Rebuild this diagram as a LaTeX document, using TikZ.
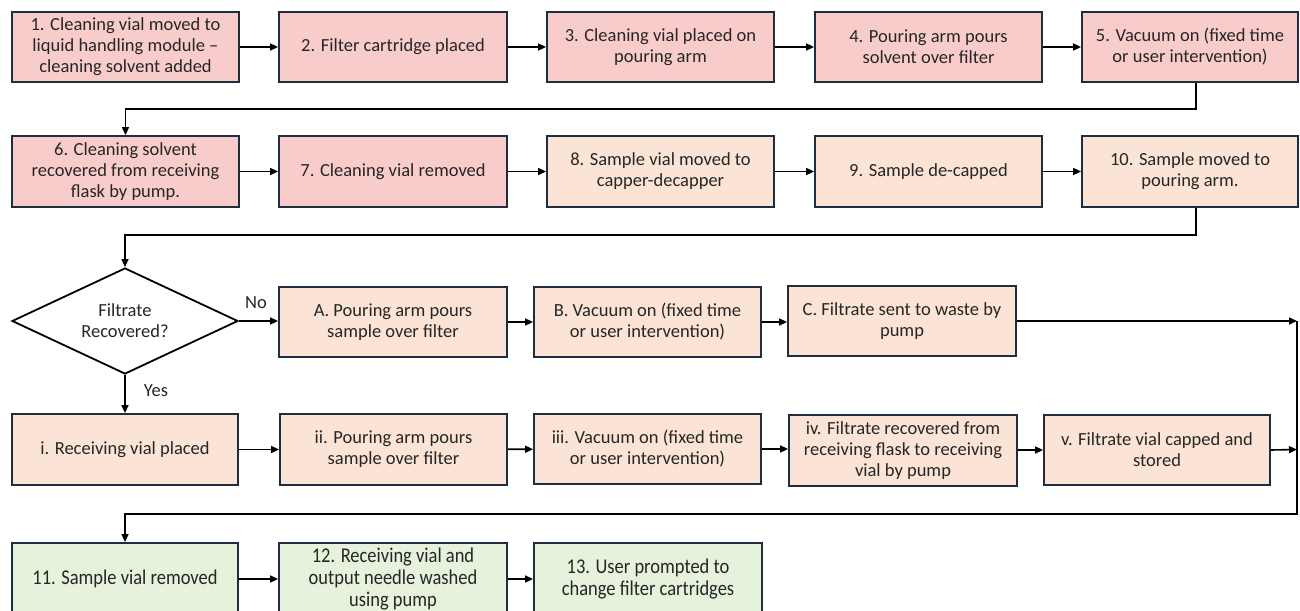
\documentclass[tikz,border=0pt]{standalone}
\usepackage{fontspec}
\setmainfont{Carlito}
\newfontfamily\narrowfont[FakeStretch=0.88]{Carlito}
\usetikzlibrary{shapes.geometric,arrows.meta}
\definecolor{pinkf}{RGB}{249,204,204}
\definecolor{peachf}{RGB}{251,227,214}
\definecolor{greenf}{RGB}{230,242,220}
\definecolor{edgec}{RGB}{31,46,62}
\definecolor{txt}{RGB}{38,38,38}
\newcommand\flowbox[7]{\node[#1, minimum width={#4-#3}, minimum height={#6-#5}] (#2) at ({(#3+#4)/2},{(#5+#6)/2}) {#7};}
\begin{document}
\begin{tikzpicture}[x=1pt,y=-1pt,
  box/.style={draw=edgec, line width=1.8pt, rectangle, inner sep=0pt, align=center, text=txt, font=\fontsize{18.5}{21}\selectfont},
  pinkbox/.style={box, fill=pinkf},
  peachbox/.style={box, fill=peachf},
  greenbox/.style={box, fill=greenf, font=\narrowfont\fontsize{21}{21.7}\selectfont},
  decision/.style={diamond, draw=black, line width=1.8pt, fill=white, inner sep=0pt, aspect=2.15, minimum width=226, minimum height=106, align=center, text=txt, font=\fontsize{18.5}{21}\selectfont},
  lbl/.style={inner sep=0pt, text=txt, font=\fontsize{18.5}{21}\selectfont},
  arr/.style={line width=1.6pt, draw=black, -{Triangle[length=8pt,width=7pt]}}]
\path[use as bounding box, clip] (0,0) rectangle (1300,610);
\fill[white] (0,0) rectangle (1300,610);
% row 1
\flowbox{pinkbox}{b1}{12}{239}{12}{82}{1. Cleaning vial moved to\\liquid handling module –\\cleaning solvent added}
\flowbox{pinkbox}{b2}{279}{507}{12}{82}{2. Filter cartridge placed}
\flowbox{pinkbox}{b3}{547}{774}{12}{82}{3. Cleaning vial placed on\\pouring arm}
\flowbox{pinkbox}{b4}{815}{1042}{12}{82}{4. Pouring arm pours\\solvent over filter}
\flowbox{pinkbox}{b5}{1082}{1298}{12}{82}{5. Vacuum on (fixed time\\or user intervention)}
% row 2
\flowbox{pinkbox}{b6}{12}{239}{136}{207}{6. Cleaning solvent\\recovered from receiving\\flask by pump.}
\flowbox{pinkbox}{b7}{279}{507}{136}{207}{7. Cleaning vial removed}
\flowbox{peachbox}{b8}{547}{774}{136}{207}{8. Sample vial moved to\\capper-decapper}
\flowbox{peachbox}{b9}{815}{1042}{136}{207}{9. Sample de-capped}
\flowbox{peachbox}{b10}{1082}{1298}{136}{207}{10. Sample moved to\\pouring arm.}
% row 3
\node[decision] (dia) at (125,321) {Filtrate\\Recovered?};
\flowbox{peachbox}{bA}{279}{507}{287}{357}{A. Pouring arm pours\\sample over filter}
\flowbox{peachbox}{bB}{534}{761}{287}{357}{B. Vacuum on (fixed time\\or user intervention)}
\flowbox{peachbox}{bC}{788}{1016}{286}{356}{C. Filtrate sent to waste by\\pump}
% row 4
\flowbox{peachbox}{bi}{12}{238}{414}{485}{i. Receiving vial placed}
\flowbox{peachbox}{bii}{280}{507}{414}{485}{ii. Pouring arm pours\\sample over filter}
\flowbox{peachbox}{biii}{534}{761}{414}{484}{iii. Vacuum on (fixed time\\or user intervention)}
\flowbox{peachbox}{biv}{789}{1017}{415}{486}{iv. Filtrate recovered from\\receiving flask to receiving\\vial by pump}
\flowbox{peachbox}{bv}{1044}{1270}{415}{485}{v. Filtrate vial capped and\\stored}
% row 5
\flowbox{greenbox}{b11}{12}{238}{543}{615}{11. Sample vial removed}
\flowbox{greenbox}{b12}{279}{507}{543}{615}{12. Receiving vial and\\output needle washed\\using pump}
\flowbox{greenbox}{b13}{534}{762}{543}{615}{13. User prompted to\\change filter cartridges}
% labels
\node[lbl] (no) at (256,303) {No};
\node[lbl] (yes) at (156,391) {Yes};
% rail coordinates
\coordinate (railTop) at (1297,321);
\coordinate (railMid) at (1297,449.5);
\coordinate (railBot) at (1297,514);
% connectors
\draw[arr] (b1) -- (b2);
\draw[arr] (b2) -- (b3);
\draw[arr] (b3) -- (b4);
\draw[arr] (b4) -- (b5);
\draw[arr] ([xshift=6pt]b5.south) -- ([xshift=6pt]b5.south |- 0,109) -| (b6.north);
\draw[arr] (b6) -- (b7);
\draw[arr] (b7) -- (b8);
\draw[arr] (b8) -- (b9);
\draw[arr] (b9) -- (b10);
\draw[arr] ([xshift=6pt]b10.south) -- ([xshift=6pt]b10.south |- 0,235) -| (dia.north);
\draw[arr] (dia.east) -- (bA.west |- dia.east);
\draw[arr] (bA) -- (bB);
\draw[arr] (bB) -- (bC.west |- bB);
\draw[arr] (bC.east) -- (railTop |- bC.east);
\draw[arr] (dia.south) -- (bi.north);
\draw[arr] (bi) -- (bii);
\draw[arr] (bii) -- (biii);
\draw[arr] (biii) -- (biv.west |- biii);
\draw[arr] (biv.east |- bv) -- (bv);
\draw[arr] (bv.east) -- (railMid);
\draw[arr] (railTop |- bC.east) -- (railBot) -| (b11.north);
\draw[arr] (b11) -- (b12);
\draw[arr] (b12) -- (b13);
\end{tikzpicture}
\end{document}
